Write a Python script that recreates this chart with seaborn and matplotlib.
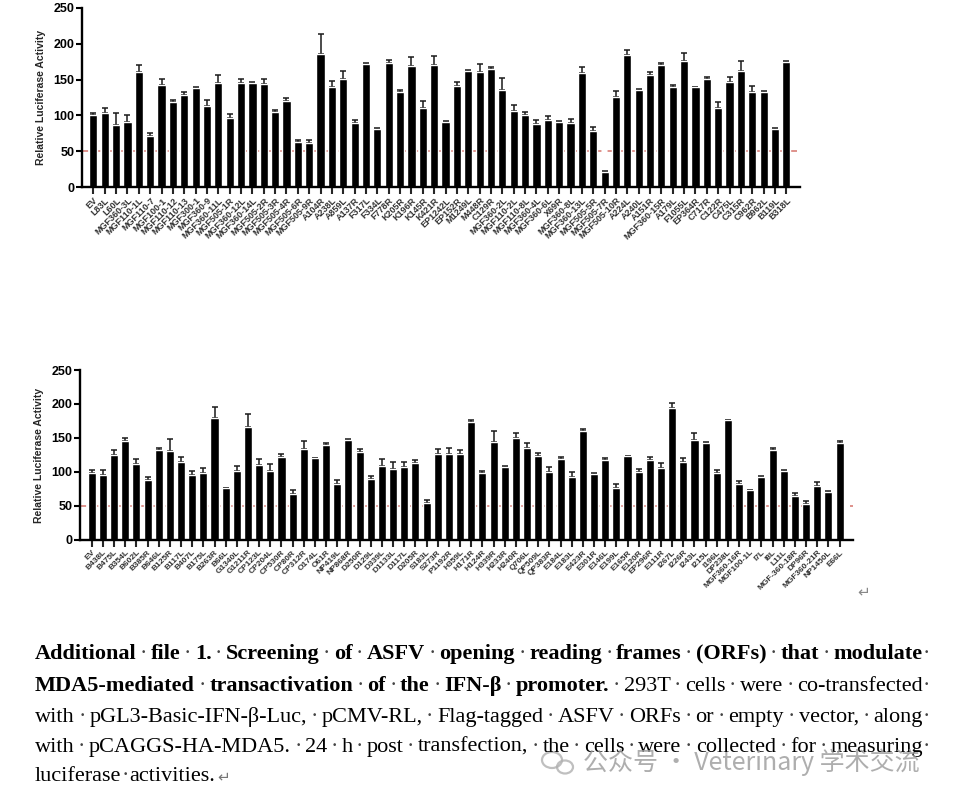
import numpy as np
import pandas as pd
import matplotlib
matplotlib.use("Agg")
import matplotlib.pyplot as plt
from matplotlib.patches import Ellipse
import seaborn as sns

# ---------------- data ----------------
labels_top = ["EV", "L83L", "L60L", "MGF360-3L", "MGF110-1L", "MGF110-7", "MGF100-1", "MGF110-12",
              "MGF110-13", "MGF300-1", "MGF360-9", "MGF360-11L", "MGF505-1R", "MGF360-12L", "MGF360-14L",
              "MGF505-2R", "MGF505-3R", "MGF505-4R", "MGF505-6R", "MGF505-9R", "A104R", "A238L", "A859L",
              "A137R", "F317L", "F334L", "F778R", "K205R", "K196R", "K145R", "K421R", "EP1242L", "EP152R",
              "M1249L", "M448R", "C129R", "MGF360-2L", "MGF110-2L", "MGF110-8L", "MGF360-4L", "MGF360-6L",
              "X69R", "MGF360-8L", "MGF360-13L", "MGF505-5R", "MGF505-7R", "MGF505-10R", "A224L", "A240L",
              "A151R", "MGF360-15R", "A179L", "F1055L", "EP364R", "C717R", "C122R", "C475L", "C315R",
              "C962R", "B962L", "B119L", "B318L"]
values_top = [100, 103, 86, 91, 160, 71, 143, 119, 129, 138,
              113, 145, 96, 145, 145, 144, 105, 120, 63, 61,
              186, 139, 151, 90, 172, 81, 173, 132, 169, 111,
              170, 91, 141, 162, 160, 165, 136, 106, 100, 88,
              93, 91, 90, 159, 78, 21, 126, 184, 135, 157,
              170, 139, 176, 139, 151, 110, 146, 162, 133, 132,
              81, 175]
errors_top = [3, 7, 18, 9, 11, 4, 8, 2, 4, 1,
              9, 12, 6, 6, 1, 7, 3, 4, 3, 4,
              27, 9, 11, 4, 1, 1, 4, 4, 12, 9,
              13, 1, 5, 2, 12, 3, 16, 8, 5, 5,
              6, 1, 5, 8, 6, 1, 8, 7, 2, 3,
              3, 4, 11, 1, 3, 9, 7, 14, 8, 2,
              1, 1]

labels_bottom = ["EV", "B438L", "B475L", "B354L", "B602L", "B385R", "B646L", "B125R", "B117L", "B407L",
                 "B175L", "B263R", "B66L", "G1340L", "G1211R", "CP123L", "CP204L", "CP530R", "CP80R",
                 "CP312R", "O174L", "O61R", "NP419L", "NP868R", "D250R", "D129L", "D339L", "D1133L",
                 "D117L", "D205R", "S183L", "S273R", "P1192R", "H359L", "H171R", "H124R", "H339R",
                 "H233R", "H240R", "Q706L", "QP509L", "QP383R", "E184L", "E183L", "E423R", "E301R",
                 "E146L", "E199L", "E165R", "E120R", "EP296R", "E111R", "I267L", "I226R", "I243L",
                 "I215L", "I196L", "DP238L", "MGF360-16R", "MGF100-1L", "I7L", "I8L", "L11L",
                 "MGF-360-18R", "DP96R", "MGF360-21R", "NP1450L", "E66L"]
values_bottom = [98, 95, 125, 146, 112, 88, 132, 131, 115, 96,
                 98, 179, 76, 102, 166, 111, 102, 122, 68, 134,
                 120, 140, 82, 147, 129, 90, 109, 104, 108, 113,
                 55, 127, 126, 126, 173, 99, 144, 108, 150, 136,
                 124, 100, 119, 92, 161, 97, 118, 76, 123, 100,
                 118, 106, 194, 115, 147, 143, 98, 176, 82, 73,
                 93, 132, 102, 65, 53, 79, 71, 142]
errors_bottom = [5, 8, 7, 4, 7, 5, 3, 17, 7, 6,
                 8, 16, 1, 7, 19, 8, 10, 4, 6, 12,
                 1, 2, 6, 1, 5, 4, 10, 11, 6, 4,
                 4, 7, 9, 6, 3, 2, 16, 1, 8, 6,
                 4, 8, 3, 8, 2, 1, 2, 6, 1, 4,
                 4, 7, 7, 5, 11, 1, 5, 1, 5, 1,
                 1, 3, 1, 4, 4, 6, 1, 4]

y_label = "Relative Luciferase Activity"
y_ticks = [0, 50, 100, 150, 200, 250]
threshold = 50

caption_lines = [
    [("Additional file 1. Screening of ASFV opening reading frames (ORFs) that modulate", "bold")],
    [("MDA5-mediated transactivation of the IFN-\u03b2 promoter.", "bold"),
     ("293T cells were co-transfected", "normal")],
    [("with pGL3-Basic-IFN-\u03b2-Luc, pCMV-RL, Flag-tagged ASFV ORFs or empty vector, along", "normal")],
    [("with pCAGGS-HA-MDA5. 24 h post transfection, the cells were collected for measuring", "normal")],
    [("luciferase activities.", "normal")],
]
watermark = "公众号 · Veterinary 学术交流"

# ---------------- style ----------------
sns.set_theme(style="ticks")
plt.rcParams["font.family"] = ["Liberation Sans", "DejaVu Sans"]

W, H = 960, 797
fig = plt.figure(figsize=(W / 100, H / 100), dpi=100)


def px_axes(left, right, top, bottom):
    return fig.add_axes([left / W, 1 - bottom / H, (right - left) / W, (bottom - top) / H])


ax1 = px_axes(82, 800, 8, 187)
ax2 = px_axes(80, 853, 370, 540)


def panel(ax, labels, vals, errs, xlim, xfs):
    df = pd.DataFrame({"orf": labels, "val": vals})
    sns.barplot(data=df, x="orf", y="val", color="black", saturation=1, width=0.72,
                errorbar=None, ax=ax, zorder=2)
    x = np.arange(len(labels))
    ax.errorbar(x, vals, yerr=[np.zeros(len(errs)), errs], fmt="none", ecolor="#1a1a1a",
                elinewidth=1.1, capsize=2.2, capthick=1.1, zorder=1.5)
    ax.axhline(threshold, color="#c8463c", lw=1.1, alpha=0.75, dashes=(4, 4), zorder=1)
    ax.set_xlim(*xlim)
    ax.set_ylim(0, 250)
    ax.set_yticks(y_ticks)
    ax.set_yticklabels([str(t) for t in y_ticks], fontsize=9, fontweight="bold")
    ax.set_xticks(x)
    ax.set_xticklabels(labels, rotation=45, ha="right", rotation_mode="anchor",
                       fontsize=xfs, fontweight="bold", color="#333333")
    ax.set_xlabel("")
    ax.set_ylabel(y_label, fontsize=7.5, fontweight="bold", labelpad=5)
    for s in ["top", "right"]:
        ax.spines[s].set_visible(False)
    for s in ["left", "bottom"]:
        ax.spines[s].set_linewidth(1.7)
        ax.spines[s].set_color("black")
    ax.tick_params(axis="y", length=4, width=1.5, pad=1.5, colors="black")
    ax.tick_params(axis="x", length=5, width=1.5, pad=1.5)
    ax.set_facecolor("white")


panel(ax1, labels_top, values_top, errors_top, (-1.0, 62.2), 6.5)
panel(ax2, labels_bottom, values_bottom, errors_bottom, (-1.05, 68.2), 6.0)

# ---------------- caption (justified) ----------------
renderer = fig.canvas.get_renderer()
cap_family = ["Liberation Serif", "DejaVu Sans"]
cap_size = 16
x_left, x_right = 35, 930
baselines = [659, 691, 722, 752, 781]


def word_width(word, weight):
    t = fig.text(0, 0, word, fontsize=cap_size, fontweight=weight, family=cap_family)
    w = t.get_window_extent(renderer).width
    t.remove()
    return w


dot_w = word_width("\u00b7", "normal")
for i, (segs, yb) in enumerate(zip(caption_lines, baselines)):
    words = []
    for txt, wt in segs:
        for wd in txt.split(" "):
            words.append((wd, wt))
    widths = [word_width(wd, wt) for wd, wt in words]
    justify = i < len(caption_lines) - 1
    if justify and len(words) > 1:
        gap = (x_right - x_left - dot_w - sum(widths)) / (len(words) - 1)
    else:
        gap = dot_w + 1
    x = x_left
    for k, ((wd, wt), w) in enumerate(zip(words, widths)):
        fig.text(x / W, 1 - yb / H, wd, fontsize=cap_size, fontweight=wt, family=cap_family,
                 ha="left", va="baseline", color="black")
        x += w
        if k < len(words) - 1 or justify:
            dx = (gap - dot_w) / 2 if k < len(words) - 1 else 0
            fig.text((x + max(dx, 0)) / W, 1 - yb / H, "\u00b7", fontsize=cap_size,
                     family=cap_family, ha="left", va="baseline", color="#444444")
        x += gap
    if not justify:
        fig.text((x - gap + 2) / W, 1 - yb / H, "\u21b5", fontsize=11, family=["DejaVu Sans"],
                 ha="left", va="baseline", color="#777777")

fig.text(857 / W, 1 - 596 / H, "\u21b5", fontsize=11, family=["DejaVu Sans"],
         ha="left", va="baseline", color="#888888")

# watermark (WeChat-style)
fig.patches.append(Ellipse((552 / W, 1 - 760 / H), 20 / W, 16 / H, transform=fig.transFigure,
                           facecolor="none", edgecolor="#b0b0b0", lw=1.6, alpha=0.8))
fig.patches.append(Ellipse((565 / W, 1 - 767 / H), 16 / W, 13 / H, transform=fig.transFigure,
                           facecolor="none", edgecolor="#b0b0b0", lw=1.6, alpha=0.8))
fig.text(583 / W, 1 - 770 / H, watermark, fontsize=18,
         family=["Noto Sans CJK SC", "DejaVu Sans"], ha="left", va="baseline",
         color="#9a9a9a", alpha=0.8)

fig.savefig("out.png", dpi=100, facecolor="white")
